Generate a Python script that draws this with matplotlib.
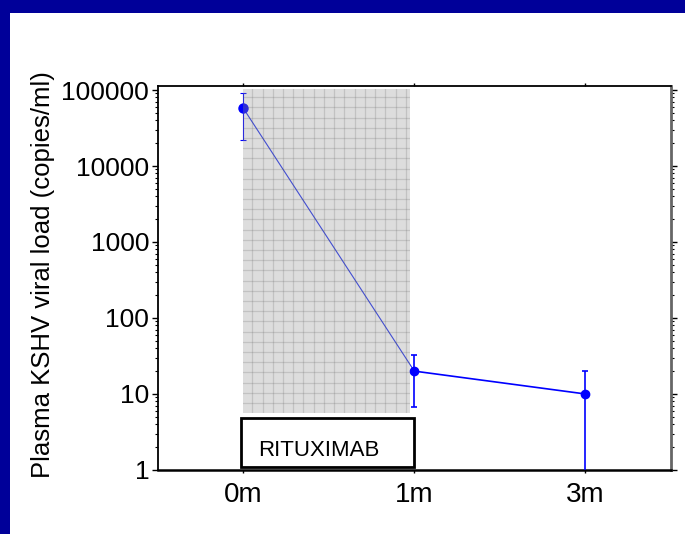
import numpy as np
import matplotlib.pyplot as plt
from matplotlib.patches import Rectangle
from matplotlib.ticker import LogLocator, FixedLocator, NullFormatter

plt.rcParams['font.family'] = ['Liberation Sans', 'DejaVu Sans']

# data
timepoints = ['0m', '1m', '3m']
viral_load = [58000, 20, 10]
err_low = [22000, 6.7, 0.5]
err_high = [90000, 33, 20]
y_ticks = [1, 10, 100, 1000, 10000, 100000]
y_ticklabels = ['1', '10', '100', '1000', '10000', '100000']
treatment = 'RITUXIMAB'
shade_x = [0, 0.974]
shade_y = [5.6, 103000]
box_x = [-0.01, 1.0]
box_y = [1.1, 4.8]

x = np.arange(len(timepoints))
vl = np.array(viral_load)
yerr = [vl - np.array(err_low), np.array(err_high) - vl]

fig = plt.figure(figsize=(6.85, 5.34), dpi=100)
ax = fig.add_axes([0.23, 0.1199, 0.7496, 0.7191])

# dark blue slide frame
fig.patches.append(Rectangle((0, 1 - 0.0238), 1, 0.0238, transform=fig.transFigure,
                             facecolor='#000099', edgecolor='none'))
fig.patches.append(Rectangle((0, 0), 0.0146, 1, transform=fig.transFigure,
                             facecolor='#000099', edgecolor='none'))

# data: thin segment during treatment, thicker afterwards
ax.plot(x[:2], vl[:2], color='#2233ee', lw=0.8, zorder=2)
ax.plot(x[1:], vl[1:], color='#0000ff', lw=1.2, zorder=2)
ax.errorbar(x[:1], vl[:1], yerr=[yerr[0][:1], yerr[1][:1]], fmt='o', color='#0000ff',
            ms=6.5, elinewidth=0.8, capsize=2, capthick=0.8, zorder=3)
ax.errorbar(x[1:], vl[1:], yerr=[yerr[0][1:], yerr[1][1:]], fmt='o', color='#0000ff',
            ms=6, elinewidth=1.2, capsize=2, capthick=1.2, zorder=3)

# shaded treatment period with grid (semi-transparent overlay)
ax_in = ax.inset_axes([shade_x[0], shade_y[0], shade_x[1] - shade_x[0], shade_y[1] - shade_y[0]],
                      transform=ax.transData)
ax_in.patch.set_facecolor((0.56, 0.56, 0.56, 0.3))
ax_in.set_xlim(-0.9, 15.4)
ax_in.set_ylim(0, 31.8)
ax_in.set_xticks(np.arange(0, 16))
ax_in.set_yticks(np.arange(1, 32))
ax_in.grid(True, color=(0.35, 0.35, 0.35), alpha=0.2, lw=0.9)
ax_in.tick_params(length=0, labelbottom=False, labelleft=False)
for s in ax_in.spines.values():
    s.set_visible(False)

# treatment label box
ax.add_patch(Rectangle((box_x[0], box_y[0]), box_x[1] - box_x[0], box_y[1] - box_y[0],
                       facecolor='white', edgecolor='black', lw=2, zorder=4))
ax.text(0.09, 1.8, treatment, fontsize=16, ha='left', va='center', zorder=5)

ax.set_yscale('log')
ax.set_ylim(1, 113000)
ax.set_xlim(-0.5, 2.5)
ax.set_xticks(x)
ax.set_xticklabels(timepoints, fontsize=20)
ax.yaxis.set_major_locator(FixedLocator(y_ticks))
ax.set_yticklabels(y_ticklabels, fontsize=19)
ax.yaxis.set_minor_locator(LogLocator(base=10, subs=np.arange(2, 10), numticks=20))
ax.yaxis.set_minor_formatter(NullFormatter())

ax.tick_params(axis='y', which='major', length=4, width=1, direction='out', right=True, pad=2)
ax.tick_params(axis='y', which='minor', length=2.5, width=0.8, direction='out', right=True)
ax.tick_params(axis='x', which='major', length=2.5, width=1, direction='out', top=True, pad=6)

ax.set_ylabel('Plasma KSHV viral load (copies/ml)', fontsize=18.5)
ax.yaxis.set_label_coords(-0.2, 0.51)

for side in ['left', 'top']:
    ax.spines[side].set_linewidth(1.3)
ax.spines['bottom'].set_linewidth(1.8)
ax.spines['right'].set_linewidth(2)
ax.spines['right'].set_color('#666666')

fig.savefig('out.png', dpi=100)
